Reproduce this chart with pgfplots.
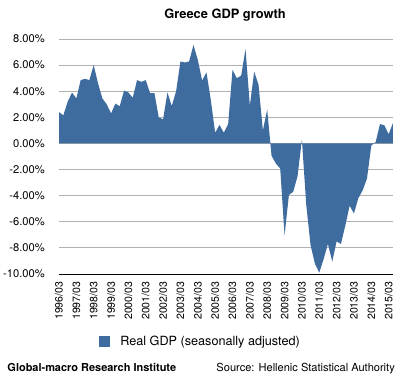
\documentclass[border=0pt]{standalone}
\usepackage{fontspec}
\setmainfont{TeX Gyre Heros}
\usepackage{pgfplots}
\pgfplotsset{compat=1.18}
\usepackage{pgfplotstable}
\definecolor{gdpblue}{RGB}{62,108,158}
\pgfplotstableread{
x y
0 2.40
1 2.15
2 3.20
3 3.90
4 3.45
5 4.85
6 4.95
7 4.85
8 6.00
9 4.60
10 3.45
11 3.00
12 2.30
13 3.05
14 2.85
15 4.05
16 3.90
17 3.50
18 4.85
19 4.72
20 4.85
21 3.85
22 3.85
23 2.00
24 1.85
25 3.90
26 2.87
27 4.00
28 6.28
29 6.20
30 6.28
31 7.55
32 6.40
33 4.82
34 5.44
35 3.33
36 0.82
37 1.42
38 0.82
39 1.48
40 5.64
41 5.00
42 5.20
43 7.23
44 2.90
45 5.50
46 4.50
47 1.00
48 2.60
49 -0.95
50 -1.54
51 -1.92
52 -7.05
53 -3.95
54 -3.70
55 -2.50
56 0.30
57 -4.70
58 -7.80
59 -9.20
60 -9.90
61 -8.87
62 -7.70
63 -9.05
64 -7.50
65 -7.70
66 -6.30
67 -4.77
68 -5.36
69 -4.20
70 -3.60
71 -2.70
72 -0.15
73 0.10
74 1.48
75 1.40
76 0.70
77 1.57
}\gdpdata
\begin{document}
\begin{tikzpicture}
\useasboundingbox (0,0) rectangle (408bp,382bp);
\begin{axis}[
  at={(59bp,108bp)}, anchor=south west,
  scale only axis, width=334bp, height=235bp,
  xmin=0, xmax=77, ymin=-10, ymax=8,
  xtick={0,4,...,76},
  xticklabels={1996/03,1997/03,1998/03,1999/03,2000/03,2001/03,2002/03,2003/03,2004/03,2005/03,2006/03,2007/03,2008/03,2009/03,2010/03,2011/03,2012/03,2013/03,2014/03,2015/03},
  ytick={-10,-8,...,8},
  /pgf/number format/assume math mode=true,
  yticklabel={\pgfmathprintnumber[fixed,fixed zerofill,precision=2]{\tick}\%},
  major tick length=0pt,
  xticklabel style={rotate=90, anchor=east, inner sep=0pt, font=\fontsize{10.6}{12}\selectfont},
  yticklabel style={anchor=east, inner sep=0pt, font=\fontsize{11.2}{13}\selectfont},
  xticklabel shift=7.5bp,
  yticklabel shift=14bp,
  ymajorgrids,
  grid style={line width=0.8bp, gray!62},
  axis x line*=bottom, axis y line*=left,
  x axis line style={black, line width=0.9bp},
  y axis line style={draw=none},
  title={Greece GDP growth},
  title style={font=\bfseries\fontsize{12.9}{15}\selectfont, at={(axis description cs:0.497,1)}, anchor=base, yshift=14.5bp, inner sep=0pt},
  legend style={draw=none, fill=none, at={(axis description cs:0.12,-0.287)}, anchor=west, inner sep=0pt, font=\fontsize{12.7}{15}\selectfont,
    nodes={inner sep=0pt},
    /tikz/every odd column/.append style={column sep=10bp}},
  legend image code/.code={\fill[gdpblue] (0bp,-5.5bp) rectangle (11bp,5.5bp);},
]
\addplot[fill=gdpblue, draw=none] table[x=x,y=y]{\gdpdata} \closedcycle;
\addlegendentry{Real GDP (seasonally adjusted)}
\end{axis}
\node[anchor=base west, inner sep=0pt, font=\bfseries\fontsize{11}{13}\selectfont] at (7.3bp,10.7bp) {Global-macro Research Institute};
\node[anchor=base east, inner sep=0pt, font=\fontsize{11.1}{13}\selectfont] at (395bp,10.7bp) {Source: Hellenic Statistical Authority};
\end{tikzpicture}
\end{document}
